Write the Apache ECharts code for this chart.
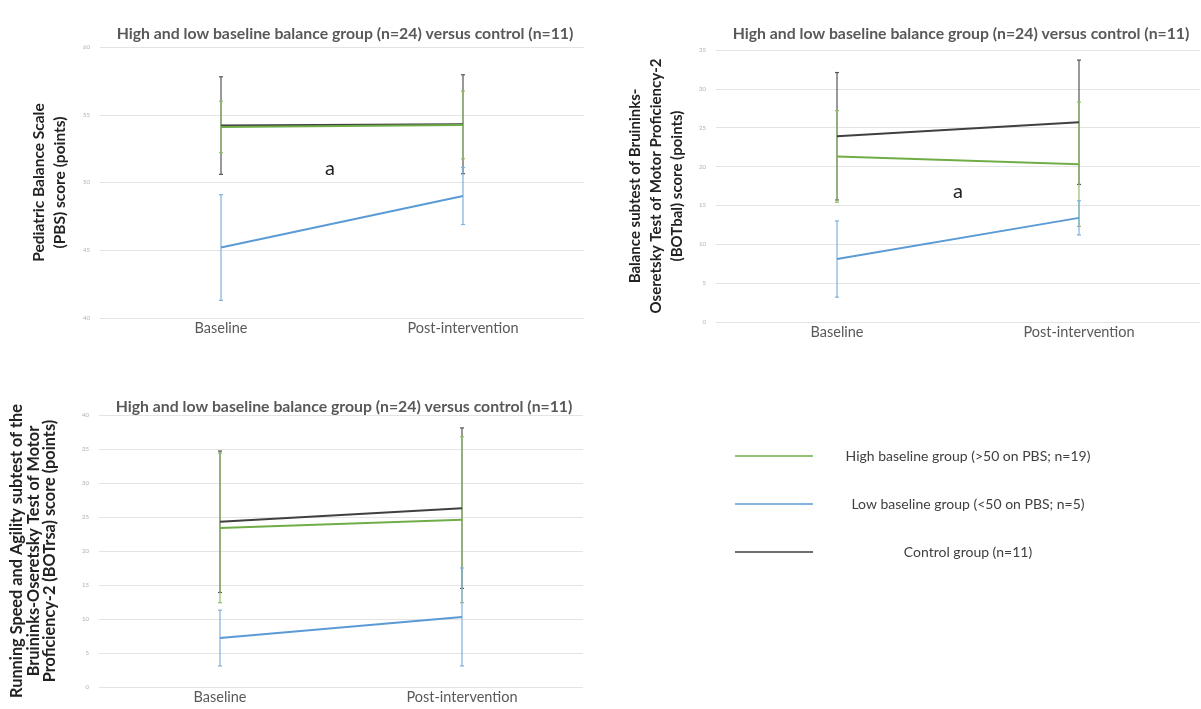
<!DOCTYPE html>
<html><head><meta charset="utf-8">
<script src="https://cdn.jsdelivr.net/npm/echarts@6/dist/echarts.min.js"></script>
<style>html,body{margin:0;padding:0;background:#fff}#c{width:1201px;height:709px}</style>
</head><body><div id="c"></div>
<script>
const categories = ['Baseline', 'Post-intervention'];
const groupNames = ['High baseline group (>50 on PBS; n=19)', 'Low baseline group (<50 on PBS; n=5)', 'Control group (n=11)'];
const title = 'High and low baseline balance group (n=24) versus control (n=11)';

// Panel 1: PBS
const pbsHigh = [54.1, 54.25], pbsHighSD = [1.9, 2.5];
const pbsLow = [45.2, 49.0], pbsLowSD = [3.9, 2.1];
const pbsCtrl = [54.2, 54.3], pbsCtrlSD = [3.6, 3.65];
// Panel 2: BOTbal
const balHigh = [21.3, 20.3], balHighSD = [5.9, 8.0];
const balLow = [8.1, 13.4], balLowSD = [4.9, 2.2];
const balCtrl = [23.9, 25.7], balCtrlSD = [8.2, 8.0];
// Panel 3: BOTrsa
const rsaHigh = [23.4, 24.6], rsaHighSD = [11.0, 12.2];
const rsaLow = [7.2, 10.3], rsaLowSD = [4.1, 7.2];
const rsaCtrl = [24.3, 26.3], rsaCtrlSD = [10.4, 11.8];

const yNames = [
  'Pediatric Balance Scale\n(PBS) score (points)',
  'Balance subtest of Bruininks-\nOseretsky Test of Motor Proficiency-2\n(BOTbal) score (points)',
  'Running Speed and Agility subtest of the\nBruininks-Oseretsky Test of Motor\nProficiency-2 (BOTrsa) score (points)'
];

const colors = ['#70ad47', '#5b9bd5', '#404040'];
const errColors = ['#8fbf6a', '#7fb1dd', '#555555'];
const FONT = 'Lato';

const panels = [
  {grid:{left:100, top:47, width:484, height:271}, y:{min:40, max:60, interval:5},
   name:{gap:30, size:15.5, lh:21}, titleTop:21,
   groups:[[pbsHigh,pbsHighSD],[pbsLow,pbsLowSD],[pbsCtrl,pbsCtrlSD]]},
  {grid:{left:716, top:50, width:484, height:272}, y:{min:0, max:35, interval:5},
   name:{gap:28, size:15, lh:21}, titleTop:21,
   groups:[[balHigh,balHighSD],[balLow,balLowSD],[balCtrl,balCtrlSD]]},
  {grid:{left:99, top:415, width:484, height:272}, y:{min:0, max:40, interval:5},
   name:{gap:41, size:16.3, lh:16.5}, titleTop:394,
   groups:[[rsaHigh,rsaHighSD],[rsaLow,rsaLowSD],[rsaCtrl,rsaCtrlSD]]}
];

function errRender(color) {
  return function (params, api) {
    const lo = api.coord([api.value(0), api.value(1)]);
    const hi = api.coord([api.value(0), api.value(2)]);
    const st = {stroke: color, lineWidth: 1.2};
    return {type:'group', children:[
      {type:'line', shape:{x1:lo[0], y1:lo[1], x2:hi[0], y2:hi[1]}, style:st},
      {type:'line', shape:{x1:lo[0]-2, y1:lo[1], x2:lo[0]+2, y2:lo[1]}, style:st},
      {type:'line', shape:{x1:hi[0]-2, y1:hi[1], x2:hi[0]+2, y2:hi[1]}, style:st}
    ]};
  };
}

const grids = [], xAxes = [], yAxes = [], series = [], titles = [];
panels.forEach((p, k) => {
  grids.push(p.grid);
  xAxes.push({type:'category', gridIndex:k, data:categories, boundaryGap:true,
    axisLine:{show:false}, axisTick:{show:false},
    axisLabel:{color:'#595959', fontSize:14.5, fontFamily:FONT, margin:3}});
  yAxes.push({type:'value', gridIndex:k, min:p.y.min, max:p.y.max, interval:p.y.interval,
    axisLine:{show:false}, axisTick:{show:false},
    axisLabel:{color:'#b0b0b0', fontSize:6, fontFamily:FONT, margin:10},
    splitLine:{lineStyle:{color:'#e4e4e4', width:1}},
    name:yNames[k], nameLocation:'middle', nameGap:p.name.gap,
    nameTextStyle:{color:'#222', fontSize:p.name.size, fontWeight:'bold', fontFamily:FONT, lineHeight:p.name.lh}});
  titles.push({text:title, left:p.grid.left + p.grid.width/2 - 2, top:p.titleTop, textAlign:'center',
    textStyle:{color:'#595959', fontSize:15.8, fontWeight:'bold', fontFamily:FONT}});
  [2,0,1].forEach(g => {
    const [m, sd] = p.groups[g];
    series.push({type:'custom', xAxisIndex:k, yAxisIndex:k, z:1,
      renderItem: errRender(errColors[g]),
      data: m.map((v, i) => [i, v - sd[i], v + sd[i]])});
  });
  [2,0,1].forEach(g => {
    const [m] = p.groups[g];
    series.push({type:'line', name:groupNames[g], xAxisIndex:k, yAxisIndex:k, z:3,
      data:m, symbol:'none', lineStyle:{color:colors[g], width:2}, itemStyle:{color:colors[g]}});
  });
});

const chart = echarts.init(document.getElementById('c'));
chart.setOption({
  animation:false,
  color: colors,
  title: titles,
  grid: grids, xAxis: xAxes, yAxis: yAxes, series: series,
  legend: {orient:'vertical', left:730, top:444, itemGap:34, itemWidth:78, itemHeight:14,
    data: groupNames.map((n, i) => ({name:n, icon:'path://M0,6.5L78,6.5L78,8L0,8Z', itemStyle:{color:colors[i]}})),
    formatter: '{c|{name}}',
    textStyle:{color:'#404040', fontSize:14, fontFamily:FONT,
      rich:{c:{width:300, align:'center', fontSize:14, fontFamily:FONT, color:'#404040'}}}},
  graphic: [
    {type:'text', left:325, top:159, style:{text:'a', fontSize:20, fontFamily:FONT, fill:'#222'}},
    {type:'text', left:953, top:182, style:{text:'a', fontSize:20, fontFamily:FONT, fill:'#222'}}
  ]
});
</script></body></html>
